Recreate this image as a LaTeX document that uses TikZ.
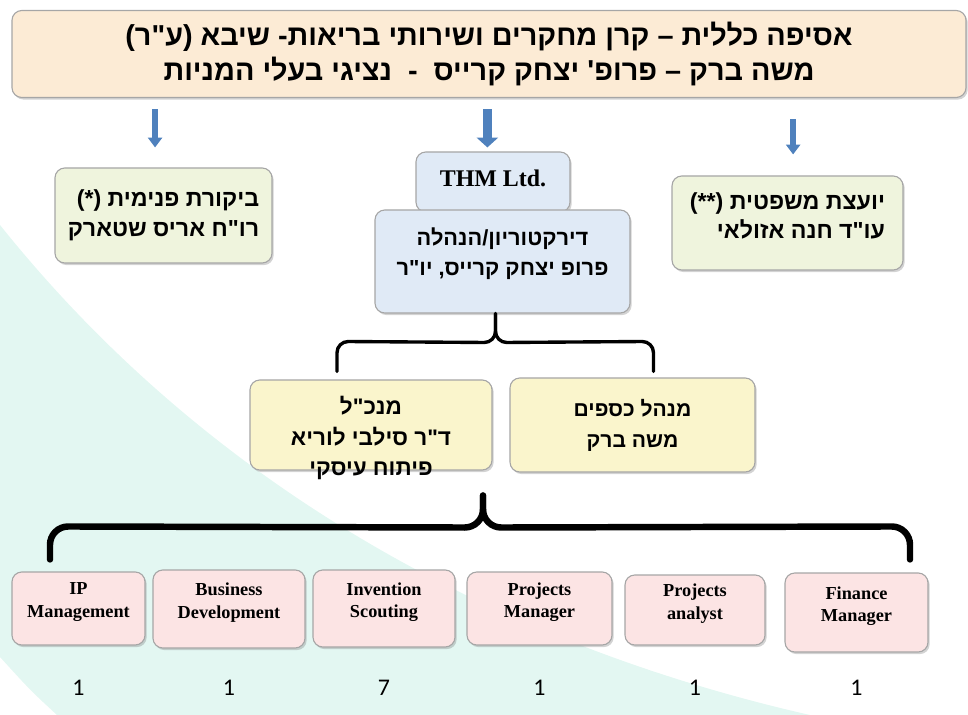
\documentclass[tikz,border=0pt]{standalone}
\usepackage{fontspec}
\setmainfont{Liberation Serif}
\newfontfamily\hebfont[Script=Hebrew]{Liberation Sans}
\newfontfamily\numfont{Carlito}
\TeXXeTstate=1
\usetikzlibrary{
  arrows.meta,
  shadows,
  positioning,
  calc
}
\newlength\pix
\setlength\pix{0.025cm}
\definecolor{titlefill}{HTML}{FCEBD5}
\definecolor{greenfill}{HTML}{EFF4DD}
\definecolor{bluefill}{HTML}{E0EAF6}
\definecolor{yellowfill}{HTML}{FAF5CC}
\definecolor{pinkfill}{HTML}{FCE4E4}
\definecolor{mint}{HTML}{E3F7F2}
\definecolor{arrowblue}{HTML}{4F81BD}
\tikzset{
  box/.style=
  {
    draw=black!35,
    line width=0.8pt,
    rounded corners=7pt,
    drop shadow={opacity=0.35,shadow xshift=1.2pt,shadow yshift=-1.5pt},
    align=center,
    inner sep=0pt
  },
  hebbox/.style=
  {
    box,
    font=\hebfont\bfseries\fontsize{16.5}{21}\selectfont
  },
  engbox/.style=
  {
    box,
    fill=pinkfill,
    text depth=12pt,
    font=\bfseries\fontsize{13}{16}\selectfont
  },
  hebtext/.style=
  {
    align=center,
    inner sep=0pt,
    font=\hebfont\bfseries\fontsize{16}{22}\selectfont
  },
  num/.style=
  {
    inner sep=0pt,
    font=\numfont\fontsize{17}{20}\selectfont
  },
  downarrow/.style=
  {
    draw=arrowblue,
    line width=4.2pt,
    -{Triangle[width=10pt,length=7pt]}
  },
  bracket/.style=
  {
    draw=black,
    line width=2.4pt,
    line cap=round,
    rounded corners=8pt
  },
  bigbracket/.style=
  {
    draw=black,
    line width=4.6pt,
    line cap=round,
    rounded corners=13pt
  }
}
\begin{document}
\begin{tikzpicture}[x=0.025cm,y=-0.025cm]
  \useasboundingbox (0,0) rectangle (968,715);
  % background band
  \fill[mint] (0,225) .. controls (200,475) and (480,640) .. (810,715)
    -- (57,715) .. controls (30,690) .. (0,657) -- cycle;

  % owners
  \node[box, fill=titlefill, minimum width=954\pix, minimum height=87\pix,
    font=\hebfont\bfseries\fontsize{20.5}{25}\selectfont] (title) at (489,54)
    {\beginR אסיפה כללית – קרן מחקרים ושירותי בריאות- שיבא (ע"ר)\endR\\
     \beginR משה ברק – פרופ' יצחק קרייס \ - \ נציגי בעלי המניות\endR};

  % second level
  \node[hebbox, fill=greenfill, minimum width=217\pix, minimum height=95\pix, align=right] (audit) at (163.5,215.5)
    {\beginR ביקורת פנימית (*)\endR\\ \beginR רו"ח אריס שטארק\endR};
  \node[hebbox, fill=greenfill, minimum width=231\pix, minimum height=94\pix, align=right,
    text depth=10.5pt] (legal) at (787.5,223)
    {\beginR יועצת משפטית (**)\endR\\ \beginR עו"ד חנה אזולאי\endR};
  \node[box, fill=bluefill, minimum width=154\pix, minimum height=60\pix, text depth=5.5pt,
    font=\bfseries\fontsize{17}{20}\selectfont] (thm) at (493,182) {THM Ltd.};
  \node[hebbox, fill=bluefill, minimum width=255\pix, minimum height=103\pix, text depth=14pt,
    font=\hebfont\bfseries\fontsize{15.5}{21}\selectfont] (board) at (502.5,261.5)
    {\beginR דירקטוריון/הנהלה\endR\\ \beginR פרופ יצחק קרייס, יו"ר\endR};

  \draw[downarrow, shorten <=11\pix, shorten >=20\pix] ([xshift=-6pt]title.south -| audit.north) -- ([xshift=-6pt]audit.north);
  \draw[downarrow, line width=6.4pt, -{Triangle[width=15pt,length=7pt]}, shorten <=11\pix, shorten >=4\pix]
    ([xshift=-4pt]title.south -| thm.north) -- ([xshift=-4pt]thm.north);
  \draw[downarrow, shorten <=21\pix, shorten >=21\pix] ([xshift=4pt]title.south -| legal.north) -- ([xshift=4pt]legal.north);

  % management
  \node[box, fill=yellowfill, minimum width=242\pix, minimum height=90\pix] (ceo) at (371,425) {};
  \node[hebtext] (ceotxt) at ([shift={(0,13)}]ceo.center)
    {\beginR מנכ"ל\endR\\ \beginR ד"ר סילבי לוריא\endR\\ \beginR פיתוח עיסקי\endR};
  \node[hebbox, fill=yellowfill, minimum width=245\pix, minimum height=94\pix,
    font=\hebfont\bfseries\fontsize{15}{22}\selectfont] (cfo) at (632.5,425)
    {\beginR מנהל כספים\endR\\ \beginR משה ברק\endR};

  \draw[bracket] ([shift={(-34,-8)}]ceo.north) -- ++(0,-30) -- ($(board.south)+(-7,29)$) -- ([xshift=-5pt]board.south);
  \draw[bracket] ([shift={(21,-6)}]cfo.north) -- ++(0,-30) -- ($(board.south)+(-7,29)$) -- ([xshift=-5pt]board.south);

  % staff
  \node[engbox, minimum width=133\pix, minimum height=73\pix] (ip) at (78.5,608.5) {IP\\Management};
  \node[engbox, minimum width=152\pix, minimum height=78\pix] (bizdev) at (229,609) {Business\\Development};
  \node[engbox, minimum width=142\pix, minimum height=77\pix] (scout) at (384,608.5) {Invention\\Scouting};
  \node[engbox, minimum width=145\pix, minimum height=73\pix] (projmgr) at (539.5,608.5) {Projects\\Manager};
  \node[engbox, minimum width=140\pix, minimum height=70\pix] (projan) at (695,610) {Projects\\analyst};
  \node[engbox, minimum width=143\pix, minimum height=79\pix] (finmgr) at (856.5,612.5) {Finance\\Manager};

  \draw[bigbracket] ([shift={(-28.5,-12)}]ip.north) -- ++(0,-33) -- ($(ceo.south)+(112,57)$) -- ($(ceo.south)+(112,25)$);
  \draw[bigbracket] ([shift={(53.5,-13)}]finmgr.north) -- ++(0,-33) -- ($(ceo.south)+(112,57)$) -- ($(ceo.south)+(112,25)$);

  \node[num] (n1) at (ip |- 0,688) {1};
  \node[num] (n2) at (bizdev |- 0,688) {1};
  \node[num] (n3) at (scout |- 0,688) {7};
  \node[num] (n4) at (projmgr |- 0,688) {1};
  \node[num] (n5) at (projan |- 0,688) {1};
  \node[num] (n6) at (finmgr |- 0,688) {1};
\end{tikzpicture}
\end{document}
